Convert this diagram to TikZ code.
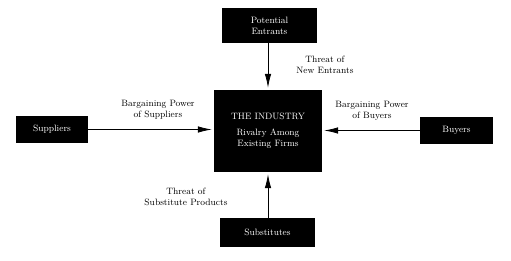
\documentclass[tikz,border=0pt]{standalone}
\usetikzlibrary{arrows.meta}

\begin{document}
\begin{tikzpicture}[x=1pt, y=-1pt,
		force/.style={fill=black, text=white, align=center, inner sep=0pt,
			font=\fontsize{9.2}{11}\selectfont},
		threat/.style={align=center, inner sep=0pt, font=\fontsize{9.2}{11}\selectfont},
		push/.style={-{Latex[length=14pt, width=6.5pt]}, line width=0.8pt, shorten >=2pt}]
	\useasboundingbox (0, 0) rectangle (511, 261);

	% the five forces
	\node [force, minimum width=108pt, minimum height=82pt] (industry) at (268, 131)
		{THE INDUSTRY\\[5pt]Rivalry Among\\Existing Firms};
	\node [force, minimum width=95pt, minimum height=35pt] (entrants) at (269.5, 25.5)
		{Potential\\Entrants};
	\node [force, minimum width=72pt, minimum height=27pt] (suppliers) at (52, 129.5)
		{Suppliers};
	\node [force, minimum width=73pt, minimum height=27pt] (buyers) at (456.5, 130.5)
		{Buyers};
	\node [force, minimum width=95pt, minimum height=29pt] (substitutes) at (267.5, 232.5)
		{Substitutes};

	% threats
	\node [threat] (newthreat) at (325, 65) {Threat of\\New Entrants};
	\node [threat] (supthreat) at (158, 110) {Bargaining Power\\of Suppliers};
	\node [threat] (buythreat) at (372, 111) {Bargaining Power\\of Buyers};
	\node [threat] (subthreat) at (186, 197) {Threat of\\Substitute Products};

	\draw [push] (entrants.south -| industry) -- (industry.north);
	\draw [push] (substitutes.north -| industry) -- (industry.south);
	\draw [push] (suppliers.east) -- (suppliers.east -| industry.west);
	\draw [push] (buyers.west) -- (buyers.west -| industry.east);
\end{tikzpicture}
\end{document}
